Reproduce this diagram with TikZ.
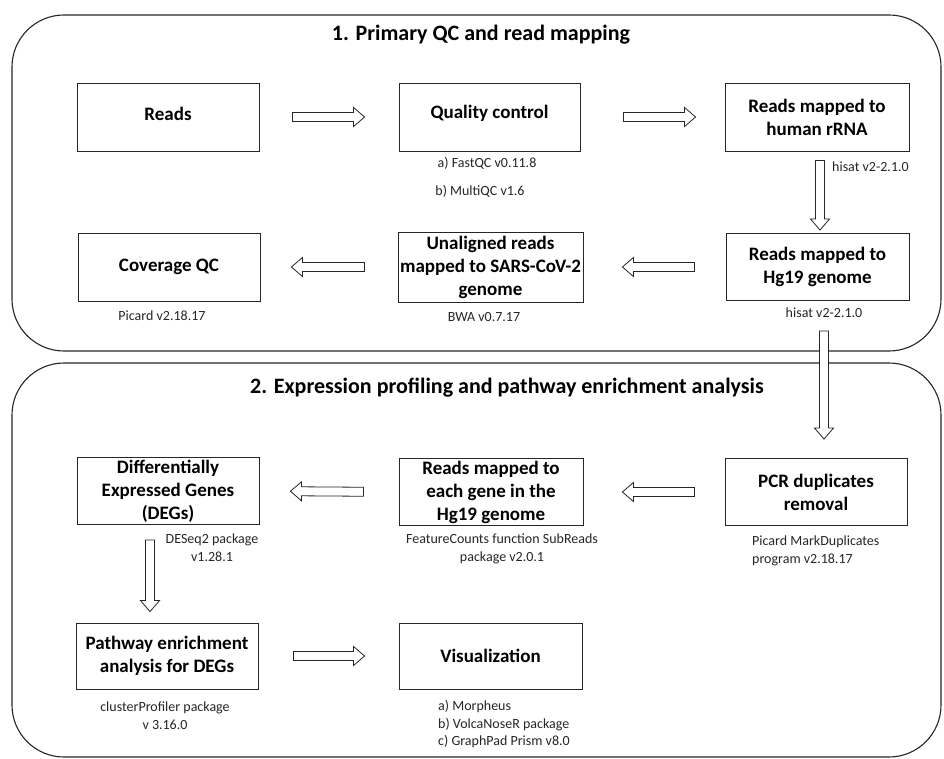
\documentclass[tikz,border=0pt]{standalone}
\usepackage{fontspec}
\setmainfont{Carlito}
\usetikzlibrary{calc}
\begin{document}
\begin{tikzpicture}[x=1pt,y=-1pt,
  panel/.style={draw=black!85, line width=1.1pt, rounded corners=52pt},
  box/.style={draw=black!85, line width=0.9pt, inner sep=0pt, align=center,
    font=\bfseries\fontsize{19}{23}\selectfont, text=black},
  lbl/.style={font=\fontsize{14}{18}\selectfont, text=black!85, inner sep=0pt, align=center},
  ttl/.style={font=\bfseries\fontsize{22}{26}\selectfont, inner sep=0pt, text=black},
  blk/.style 2 args={draw=black!85, line width=0.8pt, fill=white,
    to path={let \p1=($(\tikztostart)!#1!(\tikztotarget)$),
                 \p2=($(\tikztotarget)!#2!(\tikztostart)$),
                 \p3=($(\p2)!11pt!(\p1)$) in
      ($(\p1)!4.5pt!90:(\p2)$) -- ($(\p3)!4.5pt!90:(\p2)$) -- ($(\p3)!9.5pt!90:(\p2)$)
      -- (\p2) -- ($(\p3)!9.5pt!-90:(\p2)$) -- ($(\p3)!4.5pt!-90:(\p2)$)
      -- ($(\p1)!4.5pt!-90:(\p2)$) -- cycle}}
]
\useasboundingbox (0,0) rectangle (944,759);
\fill[white] (0,0) rectangle (944,759);

% panels
\draw[panel] (12,15) rectangle (941,351);
\draw[panel] (12,363) rectangle (941,757);

\node[ttl] (t1) at (481,35) {1. Primary QC and read mapping};
\node[ttl] (t2) at (507,388) {2. Expression profiling and pathway enrichment analysis};

% row 1
\node[box, minimum width=182pt, minimum height=68pt] (reads) at (168,117) {\raisebox{7pt}{Reads}};
\node[box, minimum width=181pt, minimum height=68pt] (qc) at (489.5,117) {\raisebox{10pt}{Quality control}};
\node[box, minimum width=184pt, minimum height=68pt] (rrna) at (817,117) {Reads mapped to\\human rRNA};
% row 2
\node[box, minimum width=182pt, minimum height=68pt] (cov) at (169,267) {Coverage QC};
\node[box, minimum width=185pt, minimum height=70pt] (unal) at (490.5,267) {Unaligned reads\\mapped to SARS-CoV-2\\genome};
\node[box, minimum width=183pt, minimum height=67pt] (hg) at (817.5,267) {Reads mapped to\\Hg19 genome};
% row 3
\node[box, minimum width=182pt, minimum height=67pt] (degs) at (168,491) {Differentially\\Expressed Genes\\(DEGs)};
\node[box, minimum width=184pt, minimum height=67pt] (rg) at (491,492) {Reads mapped to\\each gene in the\\Hg19 genome};
\node[box, minimum width=182pt, minimum height=67pt] (pcr) at (816,492) {PCR duplicates\\removal};
% row 4
\node[box, minimum width=182pt, minimum height=66pt] (path) at (167,656) {Pathway enrichment\\analysis for DEGs};
\node[box, minimum width=183pt, minimum height=66pt] (vis) at (490.5,656) {Visualization};

% labels
\node[lbl] (fq) at (487,163) {a) FastQC v0.11.8};
\node[lbl] (mq) at (480,191) {b) MultiQC v1.6};
\node[lbl, anchor=west] (hs1) at (832,167) {hisat v2-2.1.0};
\node[lbl] (pic) at (162,316) {Picard v2.18.17};
\node[lbl] (bwa) at (484,317) {BWA v0.7.17};
\node[lbl] (hs2) at (824,313) {hisat v2-2.1.0};
\node[lbl] (des) at (212,548) {DESeq2 package\\v1.28.1};
\node[lbl] (fc) at (502,549) {FeatureCounts function SubReads\\package v2.0.1};
\node[lbl, anchor=west, align=left] (pmd) at (752,551) {Picard MarkDuplicates\\program v2.18.17};
\node[lbl] (cp) at (165,716) {clusterProfiler package\\v 3.16.0};
\node[lbl, anchor=west, align=left, font=\fontsize{14}{17.5}\selectfont] (vl) at (438,724) {a) Morpheus\\b) VolcaNoseR package\\c) GraphPad Prism v8.0};

% block arrows
\draw[blk={33pt}{34pt}] (reads.east) to (qc.west);
\draw[blk={43pt}{29pt}] (qc.east) to (rrna.west);
\draw[blk={9pt}{3pt}] ([xshift=3pt]rrna.south) to ([xshift=2.5pt]hg.north);
\draw[blk={31pt}{39pt}] (hg.west) to (unal.east);
\draw[blk={33pt}{31pt}] (unal.west) to (cov.east);
\draw[blk={30pt}{19pt}] ([xshift=6.5pt]hg.south) to ([xshift=8pt]pcr.north);
\draw[blk={30pt}{39pt}] (pcr.west) to (rg.east);
\draw[blk={35pt}{31pt}] (rg.west) to (degs.east);
\draw[blk={15pt}{11pt}] ([xshift=-18pt]degs.south) to ([xshift=-17pt]path.north);
\draw[blk={35pt}{34pt}] (path.east) to (vis.west);
\end{tikzpicture}
\end{document}
